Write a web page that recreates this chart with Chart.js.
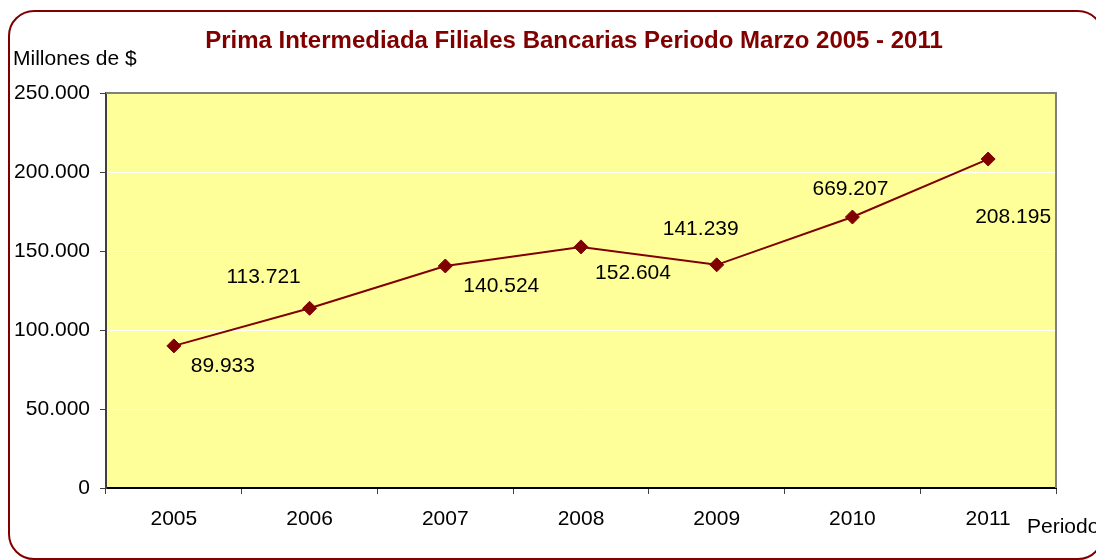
<!DOCTYPE html>
<html>
<head>
<meta charset="utf-8">
<script src="https://cdn.jsdelivr.net/npm/chart.js@4/dist/chart.umd.min.js"></script>
<style>
    body { margin: 0; background: #fff; }
    #wrap { position: relative; width: 1096px; height: 560px; overflow: hidden; }
    #frame {
        position: absolute; left: 8px; top: 10px; width: 1092px; height: 546px;
        border: 2px solid #800000; border-radius: 26px; pointer-events: none;
    }
</style>
</head>
<body>
<div id="wrap">
    <canvas id="chart" width="1096" height="560"></canvas>
    <div id="frame"></div>
</div>
<script>
let years = ["2005", "2006", "2007", "2008", "2009", "2010", "2011"];
let primaValues = [89933, 113721, 140524, 152604, 141239, 171500, 208195];
let labelTexts = ["89.933", "113.721", "140.524", "152.604", "141.239", "669.207", "208.195"];
let labelOffsets = [[49, 20], [-46, -31], [56, 20], [52, 26], [-16, -36], [-2, -28], [25, 58]];

let titleText = "Prima Intermediada Filiales Bancarias Periodo Marzo 2005 - 2011";
let yTitle = "Millones de $";
let xTitle = "Periodo";
let fontFamily = "'Liberation Sans', Arial, sans-serif";

Chart.defaults.font.family = fontFamily;
Chart.defaults.color = "#000";

function formatThousands(v) {
    if (v === 0) return "0";
    return (v / 1000).toFixed(0) + ".000";
}

let decorations = {
    id: "decorations",
    beforeDraw(chart) {
        let { ctx, chartArea: a } = chart;
        ctx.save();
        ctx.fillStyle = "#FFFF99";
        ctx.fillRect(a.left, a.top, a.right - a.left, a.bottom - a.top);
        ctx.restore();
    },
    afterDraw(chart) {
        let { ctx, chartArea: a } = chart;
        ctx.save();
        // top and right border of plot area
        ctx.strokeStyle = "#808080";
        ctx.lineWidth = 2;
        ctx.beginPath();
        ctx.moveTo(a.left, a.top);
        ctx.lineTo(a.right, a.top);
        ctx.lineTo(a.right, a.bottom);
        ctx.stroke();

        // title
        ctx.fillStyle = "#800000";
        ctx.font = "bold 24px " + fontFamily;
        ctx.textAlign = "center";
        ctx.textBaseline = "middle";
        ctx.fillText(titleText, 574, 41);

        // axis titles
        ctx.fillStyle = "#000";
        ctx.font = "21px " + fontFamily;
        ctx.textAlign = "left";
        ctx.fillText(yTitle, 13, 59);
        ctx.fillText(xTitle, 1027, 527);

        // data labels
        let meta = chart.getDatasetMeta(0);
        ctx.textAlign = "center";
        meta.data.forEach((pt, i) => {
            let [dx, dy] = labelOffsets[i];
            ctx.fillText(labelTexts[i], pt.x + dx, pt.y + dy);
        });
        ctx.restore();
    }
};

new Chart(document.getElementById("chart"), {
    type: "line",
    data: {
        labels: years,
        datasets: [{
            data: primaValues,
            borderColor: "#800000",
            backgroundColor: "#800000",
            borderWidth: 2,
            pointStyle: "rectRot",
            pointRadius: 7,
            pointBorderWidth: 1,
            tension: 0
        }]
    },
    options: {
        responsive: false,
        animation: false,
        layout: { padding: { top: 93, right: 40, left: 0, bottom: 0 } },
        plugins: {
            legend: { display: false },
            title: { display: false },
            tooltip: { enabled: false }
        },
        scales: {
            x: {
                offset: true,
                grid: {
                    offset: true,
                    drawOnChartArea: false,
                    drawTicks: true,
                    tickLength: 6,
                    tickColor: "#404040",
                    tickWidth: 1
                },
                border: { color: "#000", width: 2 },
                ticks: { font: { size: 21 }, padding: 13, maxRotation: 0 },
                afterFit: s => { s.height = 72; }
            },
            y: {
                min: 0,
                max: 250000,
                grid: {
                    color: "#ffffff",
                    lineWidth: 1,
                    tickLength: 6,
                    tickColor: "#404040",
                    tickWidth: 1
                },
                border: { color: "#404040", width: 2 },
                ticks: {
                    stepSize: 50000,
                    font: { size: 21 },
                    padding: 10,
                    callback: v => formatThousands(v)
                },
                afterFit: s => { s.width = 106; }
            }
        }
    },
    plugins: [decorations]
});
</script>
</body>
</html>
